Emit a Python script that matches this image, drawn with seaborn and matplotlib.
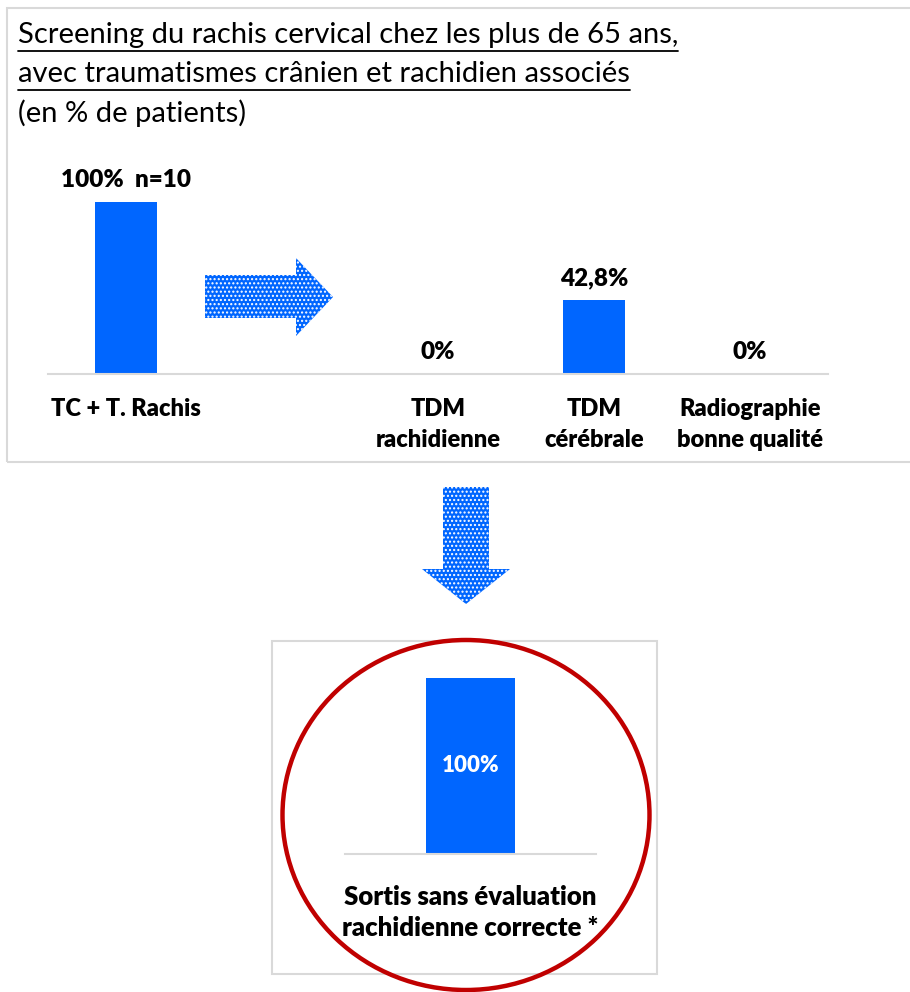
import numpy as np
import pandas as pd
import seaborn as sns
import matplotlib
matplotlib.use("Agg")
import matplotlib.pyplot as plt
from matplotlib.patches import Rectangle, Polygon, Ellipse
from matplotlib.lines import Line2D

# data
categories = ["TC + T. Rachis", " ", "TDM\nrachidienne", "TDM\ncérébrale", "Radiographie\nbonne qualité"]
values = [100, 0, 0, 42.8, 0]
bar_labels = ["100%  n=10", "", "0%", "42,8%", "0%"]

final_category = ["Sortis sans évaluation\nrachidienne correcte *"]
final_values = [100]
final_labels = ["100%"]

title_lines = ["Screening du rachis cervical chez les plus de 65 ans,",
               "avec traumatismes crânien et rachidien associés"]
subtitle = "(en % de patients)"

BLUE = "#0066FF"
W, H = 910, 992

sns.set_theme(style="white")
plt.rcParams['font.family'] = ['Lato', 'DejaVu Sans']


def px(x0, y0, x1, y1):
    # pixel box (top-left origin) -> figure fraction rect
    return [x0 / W, 1 - y1 / H, (x1 - x0) / W, (y1 - y0) / H]


fig = plt.figure(figsize=(W / 100, H / 100), dpi=100)
fig.patch.set_facecolor("white")

# frames
fig.patches.append(Rectangle((7 / W, 1 - 462 / H), 920 / W, (462 - 8) / H,
                             transform=fig.transFigure, fill=False,
                             edgecolor="#d9d9d9", lw=1.5, clip_on=False))
fig.patches.append(Rectangle((272 / W, 1 - 974 / H), (657 - 272) / W, (974 - 641) / H,
                             transform=fig.transFigure, fill=False,
                             edgecolor="#d9d9d9", lw=1.5))

# top bar chart
df = pd.DataFrame({"cat": categories, "val": values})
ax = fig.add_axes(px(48, 167.6, 828, 374))
sns.barplot(data=df, x="cat", y="val", order=categories, color=BLUE,
            saturation=1, width=0.4, linewidth=0, ax=ax)
ax.set_ylim(0, 120)
ax.set_xlim(-0.5, len(categories) - 0.5)
for i, (v, lab) in enumerate(zip(values, bar_labels)):
    ax.annotate(lab, (i, v), xytext=(0, 8), textcoords="offset points",
                ha="center", va="bottom", fontsize=17.5, fontweight="heavy", color="black")
ax.set_xlabel("")
ax.set_ylabel("")
ax.set_yticks([])
ax.tick_params(axis="x", length=0, pad=17)
for t in ax.get_xticklabels():
    t.set_fontweight("heavy")
    t.set_fontsize(17)
    t.set_color("black")
    t.set_linespacing(1.5)
    t.set_va("top")
for s in ["top", "left", "right"]:
    ax.spines[s].set_visible(False)
ax.spines["bottom"].set_color("#d9d9d9")
ax.spines["bottom"].set_linewidth(1.5)
ax.patch.set_alpha(0)

# bottom bar chart
df2 = pd.DataFrame({"cat": final_category, "val": final_values})
ax2 = fig.add_axes(px(345, 660.4, 596, 854))
sns.barplot(data=df2, x="cat", y="val", color=BLUE, saturation=1,
            width=0.355, linewidth=0, ax=ax2)
ax2.set_ylim(0, 110)
ax2.set_xlim(-0.5, 0.5)
for i, (v, lab) in enumerate(zip(final_values, final_labels)):
    ax2.text(i, v * 0.5, lab, ha="center", va="center", color="white",
             fontsize=16, fontweight="heavy")
ax2.set_xlabel("")
ax2.set_ylabel("")
ax2.set_yticks([])
ax2.tick_params(axis="x", length=0, pad=22)
for t in ax2.get_xticklabels():
    t.set_fontweight("heavy")
    t.set_fontsize(18.5)
    t.set_color("black")
    t.set_linespacing(1.35)
    t.set_va("top")
for s in ["top", "left", "right"]:
    ax2.spines[s].set_visible(False)
ax2.spines["bottom"].set_color("#d9d9d9")
ax2.spines["bottom"].set_linewidth(1.5)
ax2.patch.set_alpha(0)

# red circle
fig.patches.append(Ellipse((466 / W, 1 - 815 / H), 367 / W, 350 / H,
                           transform=fig.transFigure, fill=False,
                           edgecolor="#C00000", lw=3.2))


# dotted arrows
def arrow(pts):
    xy = [(x / W, 1 - y / H) for x, y in pts]
    fig.patches.append(Polygon(xy, closed=True, transform=fig.transFigure,
                               facecolor=BLUE, edgecolor="none"))
    fig.patches.append(Polygon(xy, closed=True, transform=fig.transFigure,
                               facecolor="none", edgecolor="white", lw=0, hatch="...."))


arrow([(205, 275), (296, 275), (296, 258), (333, 297), (296, 336), (296, 318), (205, 318)])
arrow([(443, 487), (489, 487), (489, 569), (510, 569), (466, 604), (422, 569), (443, 569)])

# title with underline
fig.canvas.draw()
renderer = fig.canvas.get_renderer()
ys = [35, 74]
for line, y in zip(title_lines, ys):
    t = fig.text(18 / W, 1 - y / H, line, ha="left", va="center", fontsize=21, color="black")
    bb = t.get_window_extent(renderer)
    uy = 1 - (y + 16) / H
    fig.add_artist(Line2D([bb.x0 / W, bb.x1 / W], [uy, uy], color="black", lw=1.3,
                          transform=fig.transFigure))
fig.text(18 / W, 1 - 113 / H, subtitle, ha="left", va="center", fontsize=21, color="black")

fig.savefig("out.png", dpi=100)
